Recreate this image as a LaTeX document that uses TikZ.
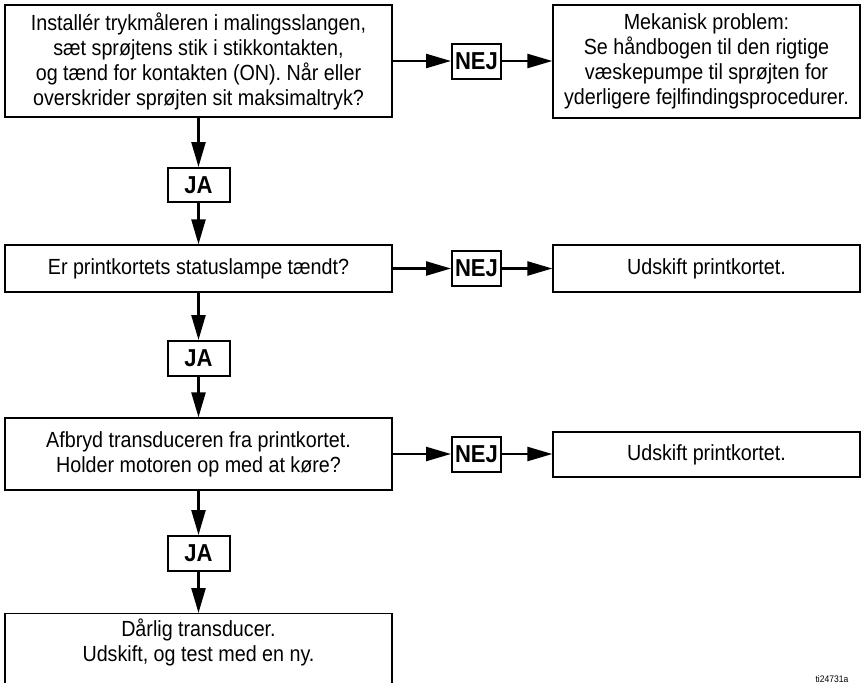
\documentclass[tikz,border=0pt]{standalone}
\usepackage{fontspec}
\setmainfont{Liberation Sans}[FakeStretch=0.90]
\usetikzlibrary{arrows.meta}
\begin{document}
\begin{tikzpicture}[x=1pt,y=-1pt,
  every node/.style={font=\fontsize{21.9}{25}\selectfont},
  mainbox/.style={draw,line width=1.3pt,inner sep=0pt,align=center},
  tagbox/.style={draw,line width=2pt,inner sep=0pt,font=\fontsize{24.5}{26}\selectfont\bfseries},
  flow/.style={line width=2.4pt,-{Triangle[length=25pt,width=14pt]}}
]
\useasboundingbox (0,0) rectangle (863,683);
\clip (0,0) rectangle (863,683);
% left column
\node[mainbox,minimum width=387pt,minimum height=112pt] (b1) at (198.5,61)
  {Installér trykmåleren i malingsslangen,\\sæt sprøjtens stik i stikkontakten,\\og tænd for kontakten (ON). Når eller\\overskrider sprøjten sit maksimaltryk?};
\node[tagbox,minimum width=62pt,minimum height=34pt] (ja1) at (198.5,185) {JA};
\node[mainbox,minimum width=387pt,minimum height=47pt] (b2) at (198.5,268.5)
  {Er printkortets statuslampe tændt?};
\node[tagbox,minimum width=62pt,minimum height=35pt] (ja2) at (198.5,358.5) {JA};
\node[mainbox,minimum width=387pt,minimum height=72pt] (b3) at (198.5,454)
  {Afbryd transduceren fra printkortet.\\Holder motoren op med at køre?};
\node[tagbox,minimum width=62pt,minimum height=35pt] (ja3) at (198.5,553.5) {JA};
\node[mainbox,minimum width=387pt,minimum height=90pt,anchor=north] (b4) at (198.5,613) {};
\node[align=center,inner sep=0pt,anchor=north] (b4t) at (198.5,619)
  {Dårlig transducer.\\Udskift, og test med en ny.};
% NEJ tags
\node[tagbox,minimum width=49pt,minimum height=35pt] (nej1) at (476.5,61) {NEJ};
\node[tagbox,minimum width=49pt,minimum height=35pt] (nej2) at (476.5,268.5) {NEJ};
\node[tagbox,minimum width=49pt,minimum height=35pt] (nej3) at (476.5,454) {NEJ};
% right column
\node[mainbox,minimum width=307pt,minimum height=113pt] (r1) at (706.5,61.5)
  {Mekanisk problem:\\Se håndbogen til den rigtige\\væskepumpe til sprøjten for\\yderligere fejlfindingsprocedurer.};
\node[mainbox,minimum width=307pt,minimum height=47pt] (r2) at (706.5,268.5)
  {Udskift printkortet.};
\node[mainbox,minimum width=307pt,minimum height=45pt] (r3) at (706.5,454.5)
  {Udskift printkortet.};
% connectors
\draw[flow] (b1) -- (ja1);
\draw[flow] (ja1) -- (b2);
\draw[flow] (b2) -- (ja2);
\draw[flow] (ja2) -- (b3);
\draw[flow] (b3) -- (ja3);
\draw[flow] (ja3) -- (b4);
\draw[flow] (b1.east |- nej1) -- (nej1);
\draw[flow] (nej1) -- (nej1 -| r1.west);
\draw[flow] (b2.east |- nej2) -- (nej2);
\draw[flow] (nej2) -- (nej2 -| r2.west);
\draw[flow] (b3.east |- nej3) -- (nej3);
\draw[flow] (nej3) -- (nej3 -| r3.west);
% figure id
\node[font=\fontsize{9.5}{11}\selectfont,anchor=base,inner sep=0pt] (tid) at (832,682) {ti24731a};
\end{tikzpicture}
\end{document}
